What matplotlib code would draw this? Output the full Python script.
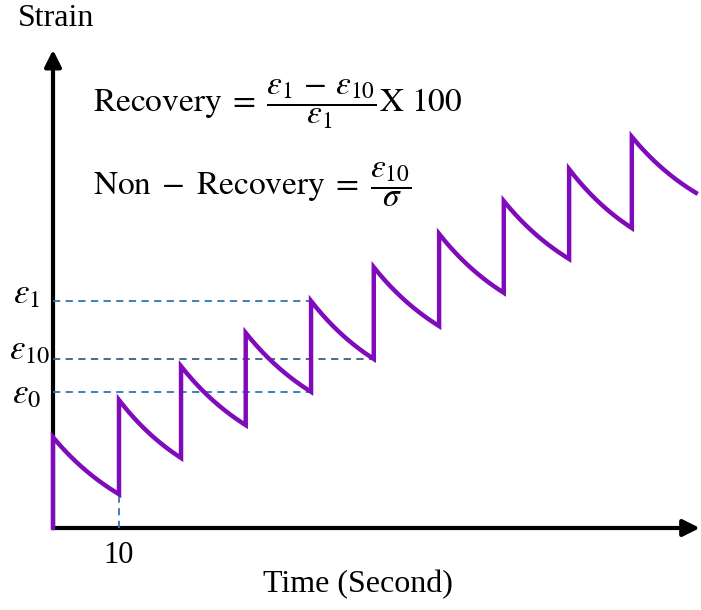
import numpy as np
import matplotlib.pyplot as plt

plt.rcParams['mathtext.fontset'] = 'stix'
plt.rcParams['font.family'] = ['Liberation Serif', 'DejaVu Serif']

# loading times (s) and strain levels (arbitrary units)
load_times = [0, 10, 19.4, 29.2, 39.1, 48.6, 58.5, 68.3, 78.2, 87.7]
end_time = 97.4
peaks = [18.8, 26.5, 33.5, 40.4, 47.0, 54.0, 60.9, 67.7, 74.3, 81.0]
troughs = [7.0, 14.5, 21.3, 28.2, 35.0, 41.8, 48.7, 55.7, 62.1, 69.4]

eps1 = 47.0
eps10 = 35.0
eps0 = 28.2
t_eps1 = 39.1
t_eps10 = 48.6
t_first = 10

purple = '#7F0BBA'
blue = '#2E75B6'
dark_blue = '#3A5F86'

fig = plt.figure(figsize=(7.01, 6.10), dpi=100)
ax = fig.add_axes([0, 0, 1, 1])
ax.set_xlim(-53 / 6.6, 648 / 6.6)
ax.set_ylim(-82 / 4.83, 528 / 4.83)
ax.axis('off')

# axes arrows
ax.annotate('', xy=(98.0, 0), xytext=(0, 0), annotation_clip=False,
            arrowprops=dict(arrowstyle='-|>', lw=3, color='black',
                            mutation_scale=25, shrinkA=0, shrinkB=0))
ax.annotate('', xy=(0, 99.0), xytext=(0, 0), annotation_clip=False,
            arrowprops=dict(arrowstyle='-|>', lw=3, color='black',
                            mutation_scale=25, shrinkA=0, shrinkB=0))

# creep / recovery sawtooth
ends = load_times[1:] + [end_time]
xs, ys = [0], [0]
k = 0.7
for t0, t1, p, tr in zip(load_times, ends, peaks, troughs):
    s = np.linspace(0, 1, 60)
    f = (np.exp(-k * s) - np.exp(-k)) / (1 - np.exp(-k))
    xs += list(t0 + (t1 - t0) * s)
    ys += list(tr + (p - tr) * f)
ax.plot(xs, ys, color=purple, lw=3.2, solid_joinstyle='miter', zorder=5)

# guide lines
dash = (0, (4, 3))
ax.plot([0, t_eps1], [eps1, eps1], color=blue, lw=1.3, ls=dash, zorder=3)
ax.plot([0, t_eps10], [eps10, eps10], color=dark_blue, lw=1.3, ls=dash, zorder=3)
ax.plot([0, t_eps1], [eps0, eps0], color=blue, lw=1.3, ls=dash, zorder=3)
ax.plot([t_first, t_first], [0, troughs[0]], color=blue, lw=1.3, ls=dash, zorder=3)

# labels
ax.text(-4.0, eps1 + 1.2, r'$\varepsilon_1$', fontsize=25, ha='center', va='center')
ax.text(-3.6, eps10 + 1.8, r'$\varepsilon_{10}$', fontsize=25, ha='center', va='center')
ax.text(-4.0, eps0 - 0.6, r'$\varepsilon_0$', fontsize=25, ha='center', va='center')
ax.text(t_first, -5.6, '10', fontsize=22, ha='center', va='center')

fig.text(0.5107, 1 - 585 / 610, 'Time (Second)', fontsize=23, ha='center', va='center')
fig.text(56 / 701, 1 - 19 / 610, 'Strain', fontsize=23, ha='center', va='center')

fig.text(93 / 701, 1 - 104 / 610,
         r'$\mathrm{Recovery}\;=\;\dfrac{\varepsilon_1\,-\,\varepsilon_{10}}{\varepsilon_1}\mathrm{X}\ 100$',
         fontsize=24, ha='left', va='center')
fig.text(93 / 701, 1 - 185 / 610,
         r'$\mathrm{Non}\;-\;\mathrm{Recovery}\;=\;\dfrac{\varepsilon_{10}}{\sigma}$',
         fontsize=24, ha='left', va='center')

fig.savefig('out.png', dpi=100)
